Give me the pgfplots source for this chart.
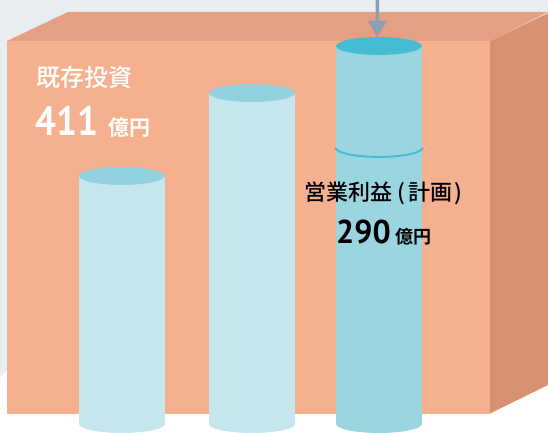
\documentclass[border=0pt]{standalone}
\usepackage{pgfplots}
\pgfplotsset{compat=1.18}
\usepackage{pgfplotstable}
\usepackage{fontspec}
\setmainfont{Noto Sans CJK JP Medium}
\newfontfamily\boldcjk{Noto Sans CJK JP Bold}
\newfontfamily\numfont{PT Sans Bold}
\definecolor{bggray}{HTML}{E9ECF1}
\definecolor{front}{HTML}{F5B090}
\definecolor{topf}{HTML}{E3A083}
\definecolor{rightf}{HTML}{D89272}
\definecolor{cyl}{HTML}{C5E6ED}
\definecolor{cap}{HTML}{92D1DE}
\definecolor{cylb}{HTML}{9BD5E0}
\definecolor{capb}{HTML}{45BCD2}
\definecolor{arrowc}{HTML}{8E9FB3}
\pgfplotstableread{
dx dy
-43 0
-41.5 2.33
-37.2 4.5
-30.4 6.36
-21.5 7.79
-11.1 8.69
0 9
11.1 8.69
21.5 7.79
30.4 6.36
37.2 4.5
41.5 2.33
43 0
41.5 -2.33
37.2 -4.5
30.4 -6.36
21.5 -7.79
11.1 -8.69
0 -9
-11.1 -8.69
-21.5 -7.79
-30.4 -6.36
-37.2 -4.5
-41.5 -2.33
}\ellipsetab
\pgfplotstableread{
dx dy
-44 0
-41.5 2.33
-37.2 4.5
-30.4 6.36
-21.5 7.79
-11.1 8.69
0 9
11.1 8.69
21.5 7.79
30.4 6.36
37.2 4.5
41.5 2.33
44 0
}\archtab
\newcommand\elli[3]{\addplot[fill=#3,draw=none] table[x expr=\thisrow{dx}+#1,y expr=\thisrow{dy}+#2]{\ellipsetab} -- cycle;}
\begin{document}
\begin{tikzpicture}
\begin{axis}[
  scale only axis, width=548pt, height=433pt,
  xmin=0,xmax=548,ymin=0,ymax=433,y dir=reverse,
  axis lines=none, clip=true,
]
% background
\addplot[fill=white,draw=none] coordinates {(0,0)(548,0)(548,433)(0,433)} -- cycle;
\addplot[fill=bggray,draw=none] coordinates {(0,0)(548,0)(548,13)(364,13)(0,377)} -- cycle;
% box
\addplot[fill=topf,draw=none] coordinates {(7,41)(68,12)(548,12)(490,41)} -- cycle;
\addplot[fill=rightf,draw=none] coordinates {(490,41)(548,13)(548,385)(490,413.5)} -- cycle;
\addplot[fill=front,draw=none] coordinates {(7,41)(490,41)(490,413.7)(7,413.7)} -- cycle;
% cylinder 1
\addplot[fill=cyl,draw=none] coordinates {(79,176)(165,176)(165,424)(79,424)} -- cycle;
\elli{122}{424}{cyl}
\elli{122}{176}{cap}
% cylinder 2
\addplot[fill=cyl,draw=none] coordinates {(209,93)(295,93)(295,424)(209,424)} -- cycle;
\elli{252}{424}{cyl}
\elli{252}{93}{cap}
% cylinder 3
\addplot[fill=cylb,draw=none] coordinates {(336,46)(422,46)(422,424)(336,424)} -- cycle;
\elli{379}{424}{cylb}
\elli{379}{46}{capb}
\addplot[draw=capb,line width=1.9pt] table[x expr=\thisrow{dx}+379,y expr=\thisrow{dy}+148]{\archtab};
% arrow
\addplot[fill=arrowc,draw=none] coordinates {(375.5,0)(379,0)(379,21)(387,21)(377,37)(368,21)(375.5,21)} -- cycle;
% text
\node[anchor=base west,text=white,font=\fontsize{24}{24}\selectfont,inner sep=0pt] at (axis cs:36,87) {既存投資};
\node[anchor=base west,text=white,font=\numfont\fontsize{41}{41}\selectfont,inner sep=0pt] at (axis cs:35,135) {\scalebox{0.9}[1]{411}};
\node[anchor=base west,text=white,font=\boldcjk\fontsize{21}{21}\selectfont,inner sep=0pt] at (axis cs:108,135) {億円};
\node[anchor=base west,text=black,font=\fontsize{22}{22}\selectfont,inner sep=0pt] at (axis cs:304,200) {営業利益\hspace{5pt}(\hspace{3pt}計画\hspace{2pt})};
\node[anchor=base west,text=black,font=\numfont\fontsize{33}{33}\selectfont,inner sep=0pt] at (axis cs:336,243) {\scalebox{0.97}[1]{290}};
\node[anchor=base west,text=black,font=\boldcjk\fontsize{18}{18}\selectfont,inner sep=0pt] at (axis cs:395,243) {億円};
\end{axis}
\end{tikzpicture}
\end{document}
